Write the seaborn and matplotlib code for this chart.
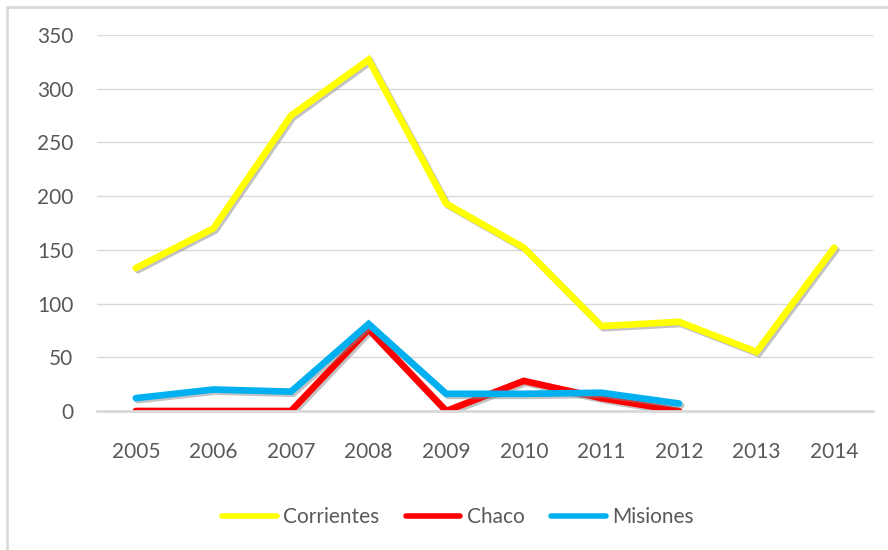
import numpy as np
import pandas as pd
import seaborn as sns
import matplotlib.pyplot as plt
import matplotlib.patheffects as pe
from matplotlib.patches import Rectangle

years = [2005, 2006, 2007, 2008, 2009, 2010, 2011, 2012, 2013, 2014]
corrientes = [133, 170, 275, 327, 193, 152, 79, 83, 55, 152]
chaco = [0, 0, 0, 76, 0, 28, 12, 0, np.nan, np.nan]
misiones = [12, 20, 18, 81, 16, 16, 17, 7, np.nan, np.nan]
series = ['Corrientes', 'Chaco', 'Misiones']
colors = ['#FFFF00', '#FF0000', '#00B0F0']

df = pd.DataFrame({'year': years * 3,
                   'value': corrientes + chaco + misiones,
                   'region': [s for s in series for _ in years]})

sns.set_style("white")
plt.rcParams['font.family'] = ['Lato', 'DejaVu Sans']
txt = '#595959'

fig = plt.figure(figsize=(8.88, 5.5), dpi=100)
ax = fig.add_axes([97 / 888, 1 - 411 / 550, 776 / 888, 376 / 550])

shadow = [pe.SimpleLineShadow(offset=(1.5, -1.5), shadow_color='#888888', alpha=0.5), pe.Normal()]
sns.lineplot(data=df, x='year', y='value', hue='region', hue_order=series,
             palette=colors, linewidth=4.8, ax=ax, legend=False)
for ln in ax.get_lines():
    ln.set_path_effects(shadow)
    ln.set_solid_joinstyle('miter')

ax.set_xlim(2004.5, 2014.5)
ax.set_ylim(0, 350)
ax.set_yticks(range(0, 351, 50))
ax.set_xticks(years)
ax.grid(axis='y', color='#D9D9D9', linewidth=1)
ax.set_axisbelow(True)
for s in ['left', 'right', 'top']:
    ax.spines[s].set_visible(False)
ax.spines['bottom'].set_color('#D9D9D9')
ax.spines['bottom'].set_linewidth(2)
ax.tick_params(axis='both', length=0, labelsize=15, colors=txt)
ax.tick_params(axis='x', pad=22)
ax.tick_params(axis='y', pad=17)
ax.set_xlabel('')
ax.set_ylabel('')

handles = [plt.Line2D([], [], color=c, linewidth=4) for c in colors]
fig.legend(handles, series, loc='center', bbox_to_anchor=(458 / 888, 1 - 517 / 550),
           ncol=3, frameon=False, fontsize=15, labelcolor=txt, handlelength=2.6,
           handletextpad=0.3, columnspacing=1.3)

fig.patches.append(Rectangle((7 / 888, -0.1), 2, 1.1 - 7 / 550, transform=fig.transFigure,
                             fill=False, edgecolor='#D9D9D9', linewidth=2))

fig.savefig('out.png', dpi=100)
